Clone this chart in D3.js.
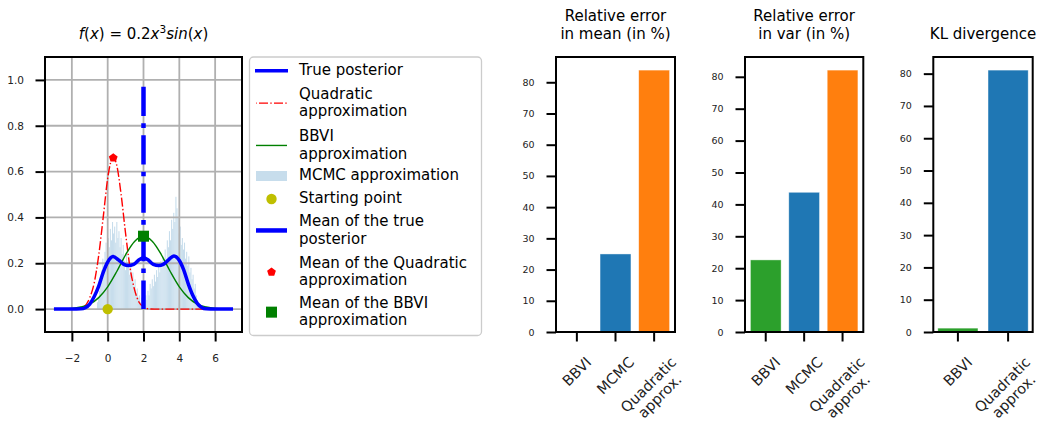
<!DOCTYPE html>
<html>
<head>
<meta charset="utf-8">
<script src="https://cdn.jsdelivr.net/npm/d3@7"></script>
<style>
  body { margin: 0; background: #fff; }
  svg text { font-family: "DejaVu Sans", sans-serif; }
</style>
</head>
<body>
<svg id="fig" width="1043" height="422"></svg>
<script>
// ---- Data ----

// True posterior (blue, thick)
const postX = [-3, -2, -1.5, -1.25, -1, -0.75, -0.5, -0.25, 0, 0.3, 0.6, 0.9, 1.15, 1.45, 1.75, 2, 2.25, 2.55, 2.85, 3.1, 3.4, 3.7, 4, 4.25, 4.5, 4.75, 5, 5.25, 5.5, 6, 7];
const postY = [0, 0, 0.001, 0.006, 0.022, 0.055, 0.1, 0.16, 0.205, 0.229, 0.215, 0.195, 0.19, 0.195, 0.215, 0.224, 0.215, 0.195, 0.19, 0.195, 0.215, 0.232, 0.212, 0.17, 0.11, 0.06, 0.025, 0.007, 0.001, 0, 0];

// Quadratic (Laplace) approximation (red, dash-dot)
const quadX = [-3, -2, -1.6, -1.3, -1, -0.75, -0.5, -0.25, 0, 0.15, 0.32, 0.5, 0.75, 1, 1.25, 1.5, 1.75, 2, 2.3, 2.6, 7];
const quadY = [0, 0, 0.003, 0.012, 0.05, 0.115, 0.235, 0.4, 0.57, 0.635, 0.66, 0.63, 0.5, 0.33, 0.18, 0.085, 0.03, 0.01, 0.001, 0, 0];

// BBVI approximation (green)
const bbviX = [-3, -2, -1.5, -1, -0.5, 0, 0.5, 1, 1.5, 2, 2.5, 3, 3.5, 4, 4.5, 5, 5.5, 6, 7];
const bbviY = [0, 0.003, 0.009, 0.022, 0.05, 0.097, 0.163, 0.237, 0.295, 0.318, 0.295, 0.237, 0.163, 0.097, 0.05, 0.022, 0.009, 0.003, 0];

// MCMC histogram: first bin edge, bin width and bar heights
const histStart = -0.6;
const histBin = 0.06;
const histHeights = [
  0.03, 0.05, 0.08, 0.12, 0.17, 0.22, 0.19, 0.25, 0.29, 0.22,
  0.31, 0.27, 0.35, 0.30, 0.38, 0.33, 0.36, 0.29, 0.38, 0.31,
  0.34, 0.27, 0.31, 0.24, 0.28, 0.21, 0.17, 0.25, 0.20, 0.23,
  0.15, 0.19, 0.12, 0.16, 0.10, 0.13, 0.07, 0.09, 0.05, 0.06,
  0.03, 0.05, 0.02, 0.04, 0.03, 0.06, 0.04, 0.08, 0.06, 0.11,
  0.09, 0.13, 0.10, 0.15, 0.12, 0.17, 0.14, 0.19, 0.16, 0.21,
  0.18, 0.23, 0.20, 0.26, 0.22, 0.30, 0.27, 0.34, 0.30, 0.39,
  0.35, 0.42, 0.38, 0.49, 0.44, 0.40, 0.33, 0.36, 0.28, 0.31,
  0.26, 0.29, 0.22, 0.25, 0.19, 0.23, 0.16, 0.18, 0.13, 0.15,
  0.09, 0.11, 0.06, 0.04, 0.02
];

// Point markers
const startPoint = [0, 0];
const truePostMean = 2;
const truePostMeanTop = 0.97;
const quadMean = [0.31, 0.66];
const bbviMean = [2, 0.318];

const xTicksL = [-2, 0, 2, 4, 6];
const yTicksL = [0, 0.2, 0.4, 0.6, 0.8, 1.0];

const legendLabels = [
  ["True posterior"],
  ["Quadratic", "approximation"],
  ["BBVI", "approximation"],
  ["MCMC approximation"],
  ["Starting point"],
  ["Mean of the true", "posterior"],
  ["Mean of the Quadratic", "approximation"],
  ["Mean of the BBVI", "approximation"]
];

// Bar panels
const meanCats = ["BBVI", "MCMC", "Quadratic\napprox."];
const meanErr = [0.1, 25.0, 83.9];
const varCats = ["BBVI", "MCMC", "Quadratic\napprox."];
const varErr = [22.6, 43.8, 82.1];
const klCats = ["BBVI", "Quadratic\napprox."];
const klVals = [1.2, 81.1];
const barTicks = [0, 10, 20, 30, 40, 50, 60, 70, 80];

// ---- Drawing ----
const C_GREEN = "#2ca02c", C_BLUE = "#1f77b4", C_ORANGE = "#ff7f0e";
const svg = d3.select("#fig");

function pentagonPath(cx, cy, r) {
  const pts = d3.range(5).map(k => {
    const a = -Math.PI / 2 + k * 2 * Math.PI / 5;
    return [cx + r * Math.cos(a), cy + r * Math.sin(a)];
  });
  return "M" + pts.join("L") + "Z";
}

// Style an axis group made by d3.axis*
function styleAxis(g, size) {
  g.attr("font-family", "DejaVu Sans").attr("font-size", size);
  g.select(".domain").remove();
  g.selectAll(".tick line").attr("stroke", "#000").attr("stroke-width", 2);
  g.selectAll(".tick text").attr("fill", "#222");
}

// ---------- left panel: densities ----------
const L = { x0: 45, x1: 242, y0: 57, y1: 332 };
const xL = d3.scaleLinear().domain([-3.5, 7.5]).range([L.x0, L.x1]);
const yL = d3.scaleLinear().domain([-0.1, 1.1]).range([L.y1, L.y0]);
const gL = svg.append("g");

// histogram (below the grid, like matplotlib patches)
gL.append("g").selectAll("rect")
  .data(histHeights)
  .join("rect")
  .attr("x", (d, i) => xL(histStart + i * histBin))
  .attr("width", (d, i) => xL(histStart + (i + 1) * histBin) - xL(histStart + i * histBin))
  .attr("y", d => yL(d))
  .attr("height", d => yL(0) - yL(d))
  .attr("fill", "#c7ddec");

// grid
xTicksL.forEach(t => gL.append("line")
  .attr("x1", xL(t)).attr("x2", xL(t)).attr("y1", L.y0).attr("y2", L.y1)
  .attr("stroke", "#b0b0b0").attr("stroke-width", 1.8));
yTicksL.forEach(t => gL.append("line")
  .attr("x1", L.x0).attr("x2", L.x1).attr("y1", yL(t)).attr("y2", yL(t))
  .attr("stroke", "#b0b0b0").attr("stroke-width", 1.8));

const line = d3.line().curve(d3.curveMonotoneX);

gL.append("path")
  .attr("d", line(quadX.map((x, i) => [xL(x), yL(quadY[i])])))
  .attr("fill", "none").attr("stroke", "#ff0000").attr("stroke-width", 1.4)
  .attr("stroke-dasharray", "9,2.3,1.4,2.3");

gL.append("path")
  .attr("d", line(bbviX.map((x, i) => [xL(x), yL(bbviY[i])])))
  .attr("fill", "none").attr("stroke", "#008000").attr("stroke-width", 1.4);

gL.append("path")
  .attr("d", line(postX.map((x, i) => [xL(x), yL(postY[i])])))
  .attr("fill", "none").attr("stroke", "#0000ff").attr("stroke-width", 3.5)
  .attr("stroke-linejoin", "round");

// mean of true posterior: thick dash-dot vertical line
gL.append("line")
  .attr("x1", xL(truePostMean)).attr("x2", xL(truePostMean))
  .attr("y1", yL(truePostMeanTop)).attr("y2", yL(0))
  .attr("stroke", "#0000ff").attr("stroke-width", 4.5)
  .attr("stroke-dasharray", "29.2,7.3,4.6,7.3");

gL.append("circle")
  .attr("cx", xL(startPoint[0])).attr("cy", yL(startPoint[1])).attr("r", 5.2)
  .attr("fill", "#bfbf00");
gL.append("path")
  .attr("d", pentagonPath(xL(quadMean[0]), yL(quadMean[1]), 4.6))
  .attr("fill", "#ff0000");
gL.append("rect")
  .attr("x", xL(bbviMean[0]) - 5.5).attr("y", yL(bbviMean[1]) - 5.5)
  .attr("width", 11).attr("height", 11).attr("fill", "#008000");

// axes, ticks and frame
const axXL = gL.append("g").attr("transform", `translate(0,${L.y1})`)
  .call(d3.axisBottom(xL).tickValues(xTicksL).tickSize(9.5).tickPadding(13.5));
styleAxis(axXL, 10.5);
const axYL = gL.append("g").attr("transform", `translate(${L.x0},0)`)
  .call(d3.axisLeft(yL).tickValues(yTicksL).tickSize(9.5).tickPadding(11.5).tickFormat(d3.format(".1f")));
styleAxis(axYL, 10.5);
gL.append("rect")
  .attr("x", L.x0).attr("y", L.y0).attr("width", L.x1 - L.x0).attr("height", L.y1 - L.y0)
  .attr("fill", "none").attr("stroke", "#000").attr("stroke-width", 2);

// title f(x) = 0.2x^3 sin(x)
const tt = svg.append("text")
  .attr("x", (L.x0 + L.x1) / 2).attr("y", 38.5)
  .attr("text-anchor", "middle").attr("font-size", 15).attr("fill", "#000");
tt.append("tspan").attr("font-style", "italic").text("f");
tt.append("tspan").text("(");
tt.append("tspan").attr("font-style", "italic").text("x");
tt.append("tspan").text(") = 0.2");
tt.append("tspan").attr("font-style", "italic").text("x");
tt.append("tspan").attr("font-size", 10.5).attr("dy", -6).text("3");
tt.append("tspan").attr("font-style", "italic").attr("dy", 6).text("sin");
tt.append("tspan").text("(");
tt.append("tspan").attr("font-style", "italic").text("x");
tt.append("tspan").text(")");

// ---------- legend ----------
const gLeg = svg.append("g");
gLeg.append("rect")
  .attr("x", 249.5).attr("y", 57).attr("width", 232).attr("height", 278.5).attr("rx", 4)
  .attr("fill", "#fff").attr("stroke", "#cccccc").attr("stroke-width", 1.3);

const legBase = [75, 98.7, 141, 180.3, 203.3, 226, 267.7, 307.7];
const lineH = 17.5;
const hx0 = 256, hx1 = 287, hcx = 271.5, tx = 299;

legendLabels.forEach((lines, i) => {
  const t = gLeg.append("text").attr("font-size", 15).attr("fill", "#000");
  lines.forEach((s, j) => t.append("tspan").attr("x", tx).attr("y", legBase[i] + j * lineH).text(s));
  const cy = legBase[i] + (lines.length - 1) * lineH / 2 - 4.3;
  if (i === 0) {
    gLeg.append("line").attr("x1", hx0 - 1).attr("x2", hx1 + 1).attr("y1", cy).attr("y2", cy)
      .attr("stroke", "#0000ff").attr("stroke-width", 3.5);
  } else if (i === 1) {
    gLeg.append("line").attr("x1", hx0).attr("x2", hx1).attr("y1", cy).attr("y2", cy)
      .attr("stroke", "#ff0000").attr("stroke-width", 1.4).attr("stroke-dasharray", "9,2.3,1.4,2.3")
      .attr("stroke-dashoffset", -3);
  } else if (i === 2) {
    gLeg.append("line").attr("x1", hx0).attr("x2", hx1).attr("y1", cy).attr("y2", cy)
      .attr("stroke", "#008000").attr("stroke-width", 1.4);
  } else if (i === 3) {
    gLeg.append("rect").attr("x", hx0).attr("y", cy - 5).attr("width", hx1 - hx0).attr("height", 10)
      .attr("fill", "#c7ddec");
  } else if (i === 4) {
    gLeg.append("circle").attr("cx", hcx).attr("cy", cy).attr("r", 5.2).attr("fill", "#bfbf00");
  } else if (i === 5) {
    gLeg.append("line").attr("x1", hx0).attr("x2", hx1).attr("y1", cy).attr("y2", cy)
      .attr("stroke", "#0000ff").attr("stroke-width", 4.5);
  } else if (i === 6) {
    gLeg.append("path").attr("d", pentagonPath(hcx, cy, 4.6)).attr("fill", "#ff0000");
  } else {
    gLeg.append("rect").attr("x", hcx - 5.5).attr("y", cy - 5.5).attr("width", 11).attr("height", 11)
      .attr("fill", "#008000");
  }
});

// ---------- bar panels ----------
// Rotated (45°) multi-line tick label, its bounding box centred under the tick
function rotatedLabel(parent, cx, top, lines, size) {
  const outer = parent.append("g");
  const inner = outer.append("g").attr("transform", "rotate(-45)");
  const t = inner.append("text").attr("font-size", size).attr("text-anchor", "middle").attr("fill", "#222");
  lines.forEach((s, i) => t.append("tspan").attr("x", 0).attr("dy", i === 0 ? 0 : "1.1em").text(s));
  const b = outer.node().getBBox();
  outer.attr("transform", `translate(${cx - (b.x + b.width / 2)},${top - b.y})`);
}

function barPanel(frame, cats, vals, colors, titleLines) {
  const n = cats.length;
  const m = 0.05 * (n - 0.2);
  const x = d3.scaleLinear().domain([-0.4 - m, n - 0.6 + m]).range([frame.x0, frame.x1]);
  const y = d3.scaleLinear().domain([0, d3.max(vals) * 1.05]).range([frame.y1, frame.y0]);
  const g = svg.append("g");

  g.selectAll("rect.bar")
    .data(vals)
    .join("rect")
    .attr("class", "bar")
    .attr("x", (d, i) => x(i - 0.4))
    .attr("width", (d, i) => x(i + 0.4) - x(i - 0.4))
    .attr("y", d => y(d))
    .attr("height", d => y(0) - y(d))
    .attr("fill", (d, i) => colors[i])
    .attr("stroke", "#fff").attr("stroke-width", 0.7).attr("stroke-opacity", 0.6);

  const ay = g.append("g").attr("transform", `translate(${frame.x0},0)`)
    .call(d3.axisLeft(y).tickValues(barTicks).tickSize(9.5).tickPadding(12));
  styleAxis(ay, 9.5);

  cats.forEach((c, i) => {
    g.append("line")
      .attr("x1", x(i)).attr("x2", x(i)).attr("y1", frame.y1).attr("y2", frame.y1 + 9.5)
      .attr("stroke", "#000").attr("stroke-width", 2);
    rotatedLabel(g, x(i), frame.y1 + 22, c.split("\n"), 14.5);
  });

  g.append("rect")
    .attr("x", frame.x0).attr("y", frame.y0).attr("width", frame.x1 - frame.x0).attr("height", frame.y1 - frame.y0)
    .attr("fill", "none").attr("stroke", "#000").attr("stroke-width", 2);

  const cx = (frame.x0 + frame.x1) / 2;
  const last = 39;
  titleLines.forEach((s, j) => {
    g.append("text")
      .attr("x", cx).attr("y", last - (titleLines.length - 1 - j) * 18.2)
      .attr("text-anchor", "middle").attr("font-size", 15).attr("fill", "#000")
      .text(s);
  });
}

barPanel({ x0: 556, x1: 675, y0: 57, y1: 332 }, meanCats, meanErr,
  [C_GREEN, C_BLUE, C_ORANGE], ["Relative error", "in mean (in %)"]);
barPanel({ x0: 745, x1: 863.3, y0: 57, y1: 332 }, varCats, varErr,
  [C_GREEN, C_BLUE, C_ORANGE], ["Relative error", "in var (in %)"]);
barPanel({ x0: 933.3, x1: 1032.7, y0: 57, y1: 332 }, klCats, klVals,
  [C_GREEN, C_BLUE], ["KL divergence"]);
</script>
</body>
</html>
